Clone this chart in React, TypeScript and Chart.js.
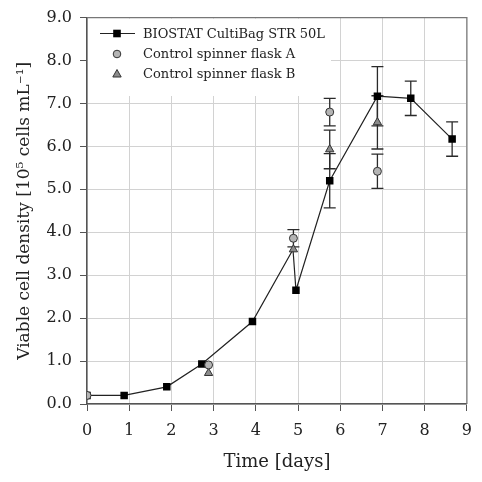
import React, { useEffect, useRef } from "react";
import { Chart, registerables } from "chart.js";

Chart.register(...registerables);

// BIOSTAT CultiBag STR 50L culture
const bagDays = [0, 0.88, 1.89, 2.72, 3.92, 4.88, 4.95, 5.75, 6.88, 7.67, 8.65];
const bagDensity = [0.2, 0.2, 0.4, 0.93, 1.92, 3.6, 2.65, 5.2, 7.17, 7.12, 6.17];
const bagError = [0, 0, 0, 0, 0, 0, 0, 0.63, 0.69, 0.4, 0.4];
const bagMarker = [true, true, true, true, true, false, true, true, true, true, true];

// Control spinner flask A
const flaskADays = [0, 2.88, 4.89, 5.75, 6.88];
const flaskADensity = [0.2, 0.91, 3.86, 6.8, 5.42];
const flaskAError = [0, 0, 0.2, 0.32, 0.4];

// Control spinner flask B
const flaskBDays = [2.88, 4.89, 5.75, 6.88];
const flaskBDensity = [0.72, 3.6, 5.93, 6.56];
const flaskBError = [0, 0, 0.45, 0.62];

const seriesNames = [
  "BIOSTAT CultiBag STR 50L",
  "Control spinner flask A",
  "Control spinner flask B",
];
const xTicks = [0, 1, 2, 3, 4, 5, 6, 7, 8, 9];
const yTicks = [0, 1, 2, 3, 4, 5, 6, 7, 8, 9];

const FONT = "'DejaVu Serif', serif";
const INK = "#222";
const CIRCLE_FILL = "#b4b4b4";
const TRIANGLE_FILL = "#8c8c8c";

const toPoints = (xs: number[], ys: number[]) => xs.map((x, i) => ({ x, y: ys[i] }));

const errorSets = [
  { xs: bagDays, ys: bagDensity, err: bagError },
  { xs: flaskADays, ys: flaskADensity, err: flaskAError },
  { xs: flaskBDays, ys: flaskBDensity, err: flaskBError },
];

function drawMarker(ctx: CanvasRenderingContext2D, kind: string, x: number, y: number) {
  ctx.save();
  ctx.lineWidth = 1;
  ctx.strokeStyle = "#333";
  if (kind === "rect") {
    ctx.fillStyle = "#000";
    ctx.fillRect(x - 3.8, y - 3.8, 7.6, 7.6);
  } else if (kind === "circle") {
    ctx.fillStyle = CIRCLE_FILL;
    ctx.beginPath();
    ctx.arc(x, y, 3.8, 0, Math.PI * 2);
    ctx.fill();
    ctx.stroke();
  } else {
    ctx.fillStyle = TRIANGLE_FILL;
    ctx.beginPath();
    ctx.moveTo(x, y - 4.5);
    ctx.lineTo(x + 4.2, y + 3);
    ctx.lineTo(x - 4.2, y + 3);
    ctx.closePath();
    ctx.fill();
    ctx.stroke();
  }
  ctx.restore();
}

const framePlugin = {
  id: "frameLegendErrors",
  beforeDatasetsDraw(chart: any) {
    const { ctx, chartArea, scales } = chart;
    // white legend panel over the grid in the upper-left corner
    ctx.save();
    ctx.fillStyle = "#fff";
    ctx.fillRect(chartArea.left + 1, chartArea.top + 1, 330 - chartArea.left, 95 - chartArea.top);
    ctx.restore();

    // vertical error bars with caps
    ctx.save();
    ctx.strokeStyle = "#2a2a2a";
    ctx.lineWidth = 1.3;
    for (const s of errorSets) {
      s.xs.forEach((xv, i) => {
        const e = s.err[i];
        if (!e) return;
        const px = scales.x.getPixelForValue(xv);
        const top = scales.y.getPixelForValue(s.ys[i] + e);
        const bot = scales.y.getPixelForValue(s.ys[i] - e);
        ctx.beginPath();
        ctx.moveTo(px, top);
        ctx.lineTo(px, bot);
        ctx.moveTo(px - 6, top);
        ctx.lineTo(px + 6, top);
        ctx.moveTo(px - 6, bot);
        ctx.lineTo(px + 6, bot);
        ctx.stroke();
      });
    }
    ctx.restore();
  },
  afterDatasetsDraw(chart: any) {
    const { ctx, chartArea } = chart;
    // top and right frame lines
    ctx.save();
    ctx.strokeStyle = "#777";
    ctx.lineWidth = 1.2;
    ctx.beginPath();
    ctx.moveTo(chartArea.left, chartArea.top);
    ctx.lineTo(chartArea.right, chartArea.top);
    ctx.lineTo(chartArea.right, chartArea.bottom);
    ctx.stroke();
    ctx.restore();

    // legend entries
    const rows = [33.5, 54, 74];
    const mx = 117;
    ctx.save();
    ctx.strokeStyle = INK;
    ctx.lineWidth = 1.2;
    ctx.beginPath();
    ctx.moveTo(100, rows[0]);
    ctx.lineTo(135, rows[0]);
    ctx.stroke();
    ctx.restore();
    drawMarker(ctx, "rect", mx, rows[0]);
    drawMarker(ctx, "circle", mx, rows[1]);
    drawMarker(ctx, "triangle", mx, rows[2]);
    ctx.save();
    ctx.fillStyle = INK;
    ctx.font = `13px ${FONT}`;
    ctx.textBaseline = "middle";
    ctx.textAlign = "left";
    seriesNames.forEach((name, i) => ctx.fillText(name, 143, rows[i] + 1));
    ctx.restore();
  },
};

export default function App() {
  const canvasRef = useRef<HTMLCanvasElement | null>(null);

  useEffect(() => {
    if (!canvasRef.current) return;
    const chart = new Chart(canvasRef.current, {
      type: "scatter",
      data: {
        datasets: [
          {
            label: seriesNames[1],
            data: toPoints(flaskADays, flaskADensity),
            showLine: false,
            pointStyle: "circle",
            pointRadius: 4,
            pointBackgroundColor: CIRCLE_FILL,
            pointBorderColor: "#333",
            pointBorderWidth: 1,
            order: 1,
          },
          {
            label: seriesNames[2],
            data: toPoints(flaskBDays, flaskBDensity),
            showLine: false,
            pointStyle: "triangle",
            pointRadius: 4.8,
            pointBackgroundColor: TRIANGLE_FILL,
            pointBorderColor: "#333",
            pointBorderWidth: 1,
            order: 2,
          },
          {
            label: seriesNames[0],
            data: toPoints(bagDays, bagDensity),
            showLine: true,
            borderColor: INK,
            borderWidth: 1.2,
            tension: 0,
            pointStyle: "rect",
            pointRadius: bagMarker.map((m) => (m ? 5.3 : 0)),
            pointBackgroundColor: "#000",
            pointBorderColor: "#000",
            pointBorderWidth: 0,
            order: 3,
          },
        ],
      },
      options: {
        animation: false,
        responsive: true,
        maintainAspectRatio: false,
        layout: { padding: { top: 12, right: 5, left: 0, bottom: 0 } },
        plugins: {
          legend: { display: false },
          tooltip: { enabled: false },
        },
        scales: {
          x: {
            type: "linear",
            min: 0,
            max: 9,
            afterBuildTicks: (scale: any) => {
              scale.ticks = xTicks.map((v) => ({ value: v }));
            },
            afterFit: (scale: any) => {
              scale.height = 78;
            },
            ticks: {
              color: INK,
              font: { family: FONT, size: 16 },
              padding: 10,
              maxRotation: 0,
            },
            grid: {
              color: "#d2d2d2",
              lineWidth: 1,
              tickColor: "#555",
              tickLength: 7,
            },
            border: { color: "#555", width: 1.5 },
            title: {
              display: true,
              text: "Time [days]",
              color: INK,
              font: { family: FONT, size: 18 },
              padding: { top: 0, bottom: 9 },
            },
          },
          y: {
            type: "linear",
            min: 0,
            max: 9,
            afterBuildTicks: (scale: any) => {
              scale.ticks = yTicks.map((v) => ({ value: v }));
            },
            afterFit: (scale: any) => {
              scale.width = 87;
            },
            ticks: {
              color: INK,
              font: { family: FONT, size: 16 },
              padding: 8,
              callback: (v: any) => Number(v).toFixed(1),
            },
            grid: {
              color: "#d2d2d2",
              lineWidth: 1,
              tickColor: "#555",
              tickLength: 7,
            },
            border: { color: "#555", width: 1.5 },
            title: {
              display: true,
              text: "Viable cell density [10\u2075 cells mL\u207B\u00B9]",
              color: INK,
              font: { family: FONT, size: 17 },
              padding: { top: 14, bottom: 0 },
            },
          },
        },
      },
      plugins: [framePlugin],
    });
    return () => chart.destroy();
  }, []);

  return (
    <div style={{ position: "fixed", left: 0, top: 0, width: 482, height: 482, background: "#fff" }}>
      <canvas ref={canvasRef} />
    </div>
  );
}
